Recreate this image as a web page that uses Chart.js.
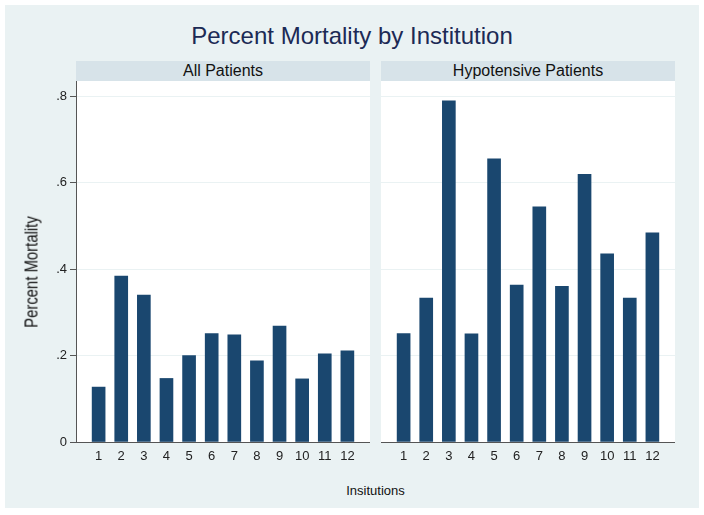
<!DOCTYPE html>
<html>
<head>
<meta charset="utf-8">
<script src="https://cdn.jsdelivr.net/npm/chart.js@4/dist/chart.umd.min.js"></script>
<style>
  body { margin: 0; background: #fff; font-family: "Liberation Sans", Arial, sans-serif; }
  #frame { position: absolute; left: 5px; top: 5px; width: 694px; height: 503px; background: #EAF2F3; }
  .abs { position: absolute; }
  #title { left: 0; top: 22px; width: 704px; text-align: center; font-size: 24px; color: #1c2a55; }
  .head { top: 61px; width: 294px; height: 20px; line-height: 20px; text-align: center;
          background: #D7E3E9; font-size: 16px; color: #111; }
  #ytitle { left: 32px; top: 272px; transform: translate(-50%, -50%) rotate(-90deg) scale(0.85, 1);
            font-size: 17.5px; color: #111; white-space: nowrap; }
  #xtitle { left: 0; width: 751px; top: 483px; text-align: center; font-size: 13px; color: #111; }
</style>
</head>
<body>
<div id="frame"></div>
<div id="title" class="abs">Percent Mortality by Institution</div>
<canvas id="leftChart" class="abs" style="left:0;top:61px" width="370" height="409"></canvas>
<canvas id="rightChart" class="abs" style="left:381px;top:61px" width="294" height="409"></canvas>
<div class="abs head" style="left:76px">All Patients</div>
<div class="abs head" style="left:381px">Hypotensive Patients</div>
<div id="ytitle" class="abs">Percent Mortality</div>
<div id="xtitle" class="abs">Insitutions</div>

<script>
const institutions = [1, 2, 3, 4, 5, 6, 7, 8, 9, 10, 11, 12];
const allPatients = [0.127, 0.384, 0.340, 0.147, 0.200, 0.251, 0.248, 0.188, 0.268, 0.146, 0.204, 0.211];
const hypotensivePatients = [0.251, 0.333, 0.789, 0.250, 0.655, 0.363, 0.544, 0.360, 0.619, 0.435, 0.333, 0.484];
const yTicks = [0, 0.2, 0.4, 0.6, 0.8];
const yTickLabels = ["0", ".2", ".4", ".6", ".8"];

const barColor = "#1A476F";
const gridColor = "#EAF2F3";

// white plot region behind the bars
const plotBg = {
  id: "plotBg",
  beforeDraw(chart) {
    const { ctx, chartArea: a } = chart;
    ctx.save();
    ctx.fillStyle = "#fff";
    ctx.fillRect(a.left, a.top, a.right - a.left, a.bottom - a.top);
    ctx.restore();
  }
};

function makePanel(id, values, showYAxis) {
  const ctx = document.getElementById(id).getContext("2d");
  return new Chart(ctx, {
    type: "bar",
    data: {
      datasets: [{
        data: values.map((v, i) => ({ x: institutions[i], y: v })),
        backgroundColor: barColor,
        borderWidth: 0,
        barThickness: 13
      }]
    },
    options: {
      responsive: false,
      animation: false,
      layout: { padding: { top: 20, left: 0, right: 0, bottom: 0 } },
      plugins: { legend: { display: false }, tooltip: { enabled: false } },
      scales: {
        x: {
          type: "linear",
          offset: false,
          min: 0,
          max: 13,
          afterBuildTicks: s => { s.ticks = institutions.map(v => ({ value: v })); },
          afterFit: s => { s.height = 28; },
          ticks: {
            font: { family: "Liberation Sans", size: 13 },
            color: "#222",
            padding: 7,
            maxRotation: 0,
            callback: v => String(v)
          },
          grid: { display: false, drawTicks: false },
          border: { display: true, color: "#555", width: 1 }
        },
        y: {
          min: 0,
          max: 0.835,
          afterBuildTicks: s => { s.ticks = yTicks.map(v => ({ value: v })); },
          afterFit: s => { s.width = showYAxis ? 76 : 0; },
          ticks: {
            display: showYAxis,
            font: { family: "Liberation Sans", size: 13 },
            color: "#222",
            padding: 3,
            callback: (v, i) => yTickLabels[i]
          },
          grid: {
            color: gridColor,
            lineWidth: 1,
            drawTicks: showYAxis,
            tickLength: 6,
            tickColor: "#555"
          },
          border: { display: showYAxis, color: "#555", width: 1 }
        }
      }
    },
    plugins: [plotBg]
  });
}

makePanel("leftChart", allPatients, true);
makePanel("rightChart", hypotensivePatients, false);
</script>
</body>
</html>
